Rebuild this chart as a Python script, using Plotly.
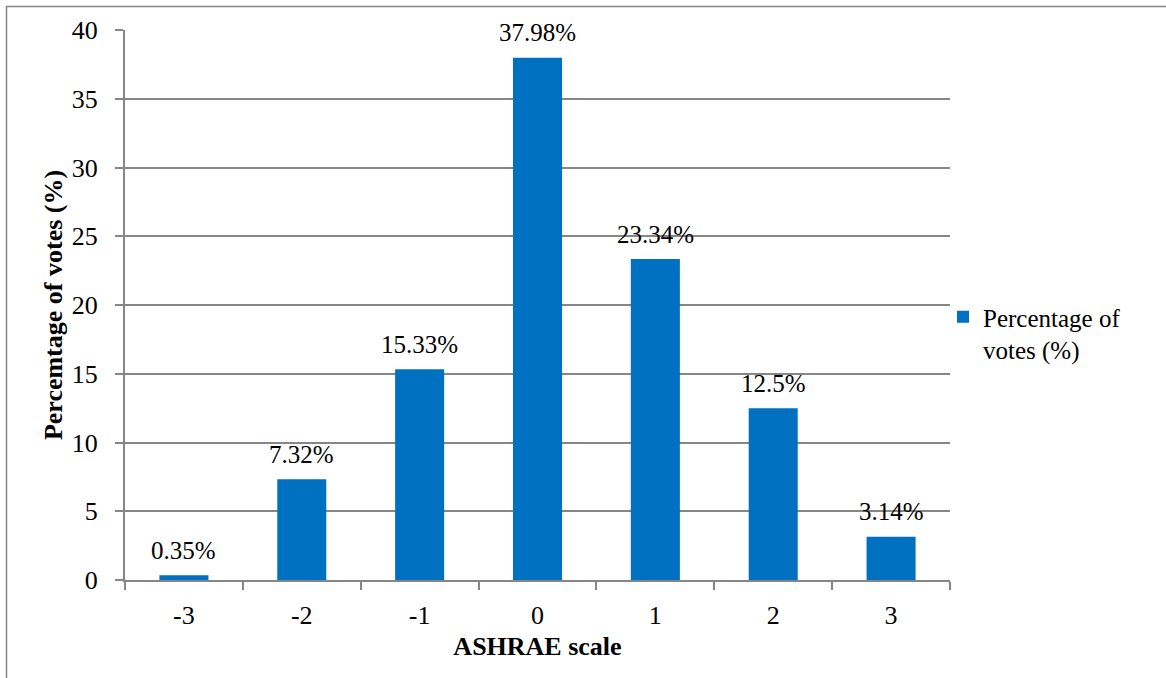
import plotly.graph_objects as go

# ASHRAE thermal sensation scale and share of votes per scale point
scale_points = ["-3", "-2", "-1", "0", "1", "2", "3"]
vote_share = [0.35, 7.32, 15.33, 37.98, 23.34, 12.5, 3.14]
y_ticks = [0, 5, 10, 15, 20, 25, 30, 35, 40]

series_name = "Percentage of<br>votes (%)"
bar_color = "#0070C0"
line_color = "#868686"
serif = "'Times New Roman', Times, 'Liberation Serif', serif"

W, H = 1166, 678
L, R, T, B = 125, 216, 30, 98
pw, ph = W - L - R, H - T - B

fig = go.Figure()
fig.add_trace(go.Bar(
    x=scale_points,
    y=vote_share,
    name=series_name,
    marker=dict(color=bar_color, line=dict(width=0)),
    showlegend=True,
))

# value labels above each bar (category index positions)
annotations = [
    dict(x=i, y=v, xref="x", yref="y", text=f"{v}%", showarrow=False,
         yanchor="middle", yshift=25, font=dict(family=serif, size=25, color="#000000"))
    for i, v in enumerate(vote_share)
]

# outer chart frame (paper coordinates of the surrounding page area)
def px_to_paper_x(px):
    return (px - L) / pw

def px_to_paper_y(py):
    return (H - B - py) / ph

fig.update_layout(
    width=W, height=H,
    margin=dict(l=L, r=R, t=T, b=B, pad=0),
    paper_bgcolor="white",
    plot_bgcolor="white",
    bargap=0.584,
    font=dict(family=serif, size=22, color="#000000"),
    annotations=annotations,
    shapes=[dict(type="rect", xref="paper", yref="paper",
                 x0=px_to_paper_x(6.5), x1=px_to_paper_x(1175),
                 y0=px_to_paper_y(690), y1=px_to_paper_y(6.5),
                 line=dict(color=line_color, width=1.5), fillcolor="rgba(0,0,0,0)",
                 layer="below")],
    legend=dict(x=px_to_paper_x(943), y=px_to_paper_y(294), xanchor="left", yanchor="top",
                font=dict(family=serif, size=25, color="#000000"),
                bgcolor="rgba(0,0,0,0)", valign="top", itemwidth=30,
                tracegroupgap=0),
    xaxis=dict(
        type="category",
        range=[-0.5, 6.5],
        showline=True, linecolor=line_color, linewidth=2,
        ticks="outside", ticklen=8, tickwidth=2, tickcolor=line_color,
        tickson="boundaries",
        showgrid=False,
        tickfont=dict(family=serif, size=26),
        ticklabelstandoff=11,
        title=dict(text="<b>ASHRAE scale</b>", font=dict(family=serif, size=26), standoff=8),
    ),
    yaxis=dict(
        range=[0, 40],
        tickvals=y_ticks,
        showline=True, linecolor=line_color, linewidth=2,
        ticks="outside", ticklen=8, tickwidth=2, tickcolor=line_color,
        showgrid=True, gridcolor=line_color, gridwidth=2,
        zeroline=False,
        tickfont=dict(family=serif, size=26),
        ticklabelstandoff=12,
        title=dict(text="<b>Percemtage of votes (%)</b>", font=dict(family=serif, size=26), standoff=2),
    ),
)

fig.write_html("out.html")
